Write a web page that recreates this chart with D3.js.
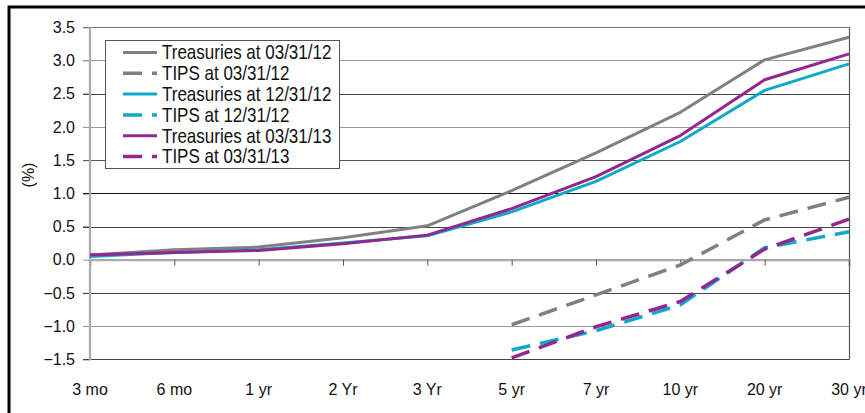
<!DOCTYPE html>
<html>
<head>
<meta charset="utf-8">
<script src="https://cdn.jsdelivr.net/npm/d3@7"></script>
<style>
  html, body { margin: 0; padding: 0; background: #fff; }
  svg { display: block; font-family: Arial, "Liberation Sans", sans-serif; }
</style>
</head>
<body>
<svg id="chart" width="865" height="413"></svg>
<script>
// Maturities along the curve
const maturities = ["3 mo", "6 mo", "1 yr", "2 Yr", "3 Yr", "5 yr", "7 yr", "10 yr", "20 yr", "30 yr"];

// Yields (%) – nominal Treasuries and TIPS real yields
const treasuries_033112 = [0.07, 0.15, 0.19, 0.33, 0.51, 1.04, 1.61, 2.22, 3.01, 3.35];
const tips_033112       = [null, null, null, null, null, -0.98, -0.53, -0.08, 0.60, 0.94];
const treasuries_123112 = [0.05, 0.11, 0.15, 0.25, 0.36, 0.72, 1.18, 1.78, 2.55, 2.95];
const tips_123112       = [null, null, null, null, null, -1.36, -1.07, -0.68, 0.18, 0.42];
const treasuries_033113 = [0.07, 0.11, 0.14, 0.24, 0.37, 0.77, 1.25, 1.87, 2.71, 3.10];
const tips_033113       = [null, null, null, null, null, -1.48, -1.01, -0.63, 0.16, 0.61];

const seriesNames = ["Treasuries at 03/31/12", "TIPS at 03/31/12",
                     "Treasuries at 12/31/12", "TIPS at 12/31/12",
                     "Treasuries at 03/31/13", "TIPS at 03/31/13"];

const yTicks = [3.5, 3.0, 2.5, 2.0, 1.5, 1.0, 0.5, 0.0, -0.5, -1.0, -1.5];

const GRAY = "#808080", CYAN = "#10a9c9", PURPLE = "#92278f";
const series = [
  { name: seriesNames[0], values: treasuries_033112, color: GRAY,   dash: null },
  { name: seriesNames[1], values: tips_033112,       color: GRAY,   dash: "19,10" },
  { name: seriesNames[2], values: treasuries_123112, color: CYAN,   dash: null },
  { name: seriesNames[3], values: tips_123112,       color: CYAN,   dash: "19,10" },
  { name: seriesNames[4], values: treasuries_033113, color: PURPLE, dash: null },
  { name: seriesNames[5], values: tips_033113,       color: PURPLE, dash: "19,10" }
];

const svg = d3.select("#chart");
const plotL = 90, plotR = 849, plotT = 27.3, plotB = 359.3;

const x = d3.scalePoint().domain(maturities).range([plotL, plotR]);
const y = d3.scaleLinear().domain([-1.5, 3.5]).range([plotB, plotT]);

// Outer frame
svg.append("rect")
  .attr("x", 9).attr("y", 7).attr("width", 900).attr("height", 440)
  .attr("fill", "none").attr("stroke", "#000").attr("stroke-width", 3);

// Horizontal gridlines (each extends left past the axis as a tick)
const gridColor = v => ({ "3.5": "#777", "3": "#9a9a9a", "2.5": "#444", "2": "#9a9a9a",
  "1.5": "#555", "1": "#111", "0.5": "#444", "-0.5": "#444", "-1": "#999", "-1.5": "#444" })[String(v)] || "#999";

svg.append("g").selectAll("line")
  .data(yTicks.filter(v => v !== 0))
  .join("line")
  .attr("x1", plotL - 7).attr("x2", plotR)
  .attr("y1", d => Math.round(y(d)) + 0.5).attr("y2", d => Math.round(y(d)) + 0.5)
  .attr("stroke", d => gridColor(d)).attr("stroke-width", 1.2);

// Right border of plot area
svg.append("line")
  .attr("x1", plotR + 0.5).attr("x2", plotR + 0.5)
  .attr("y1", plotT).attr("y2", plotB + 0.5)
  .attr("stroke", "#555").attr("stroke-width", 1.2);

// Y axis with labels
const yAxis = d3.axisLeft(y).tickValues(yTicks).tickFormat(d3.format(".1f")).tickSize(7).tickPadding(8);
const gy = svg.append("g").attr("transform", `translate(${plotL},0)`).call(yAxis);
gy.select(".domain").remove();
gy.selectAll(".tick line").attr("stroke", d => d === 0 ? "#999" : gridColor(d));
gy.selectAll(".tick text").attr("font-size", 16).attr("fill", "#111")
  .attr("font-family", "Arial, 'Liberation Sans', sans-serif");

// Zero line with category ticks
const xAxis = d3.axisBottom(x).tickSize(6).tickFormat("");
const gx = svg.append("g").attr("transform", `translate(0,${y(0)})`).call(xAxis);
gx.select(".domain").attr("stroke", "#aaa").attr("stroke-width", 2.2);
gx.selectAll(".tick line").attr("stroke", "#555");

// Category labels
svg.append("g").selectAll("text")
  .data(maturities)
  .join("text")
  .attr("x", d => x(d)).attr("y", 395)
  .attr("text-anchor", "middle")
  .attr("font-size", 16).attr("fill", "#111")
  .text(d => d);

// Vertical axis line
svg.append("line")
  .attr("x1", plotL).attr("x2", plotL)
  .attr("y1", plotT).attr("y2", plotB + 1)
  .attr("stroke", "#aaa").attr("stroke-width", 2.2);

// Axis title
svg.append("text")
  .attr("transform", "translate(34,175) rotate(-90)")
  .attr("text-anchor", "middle")
  .attr("font-size", 16).attr("fill", "#111")
  .text("(%)");

// Curves
const line = d3.line()
  .defined(d => d.v !== null)
  .x(d => x(d.m)).y(d => y(d.v));

svg.append("g").selectAll("path")
  .data(series)
  .join("path")
  .attr("d", s => line(s.values.map((v, i) => ({ m: maturities[i], v }))))
  .attr("fill", "none")
  .attr("stroke", s => s.color)
  .attr("stroke-width", s => s.dash ? 3.5 : 3)
  .attr("stroke-dasharray", s => s.dash)
  .attr("stroke-linejoin", "round");

// Legend
const lg = svg.append("g");
lg.append("rect")
  .attr("x", 105.5).attr("y", 40.5).attr("width", 234).attr("height", 128)
  .attr("fill", "#fff").attr("stroke", "#555").attr("stroke-width", 1);

const rows = lg.selectAll("g.row")
  .data(series)
  .join("g")
  .attr("class", "row")
  .attr("transform", (d, i) => `translate(0,${52.5 + i * 20.8})`);

rows.append("line")
  .attr("x1", 123).attr("x2", 157).attr("y1", 0).attr("y2", 0)
  .attr("stroke", d => d.color)
  .attr("stroke-width", d => d.dash ? 3.5 : 3)
  .attr("stroke-dasharray", d => d.dash);

// Legend labels use a slightly tall, condensed face
rows.append("text")
  .attr("transform", "translate(162,0) scale(1,1.14)")
  .attr("dy", "0.36em")
  .attr("font-size", 17).attr("fill", "#111")
  .text(d => d.name);
</script>
</body>
</html>
